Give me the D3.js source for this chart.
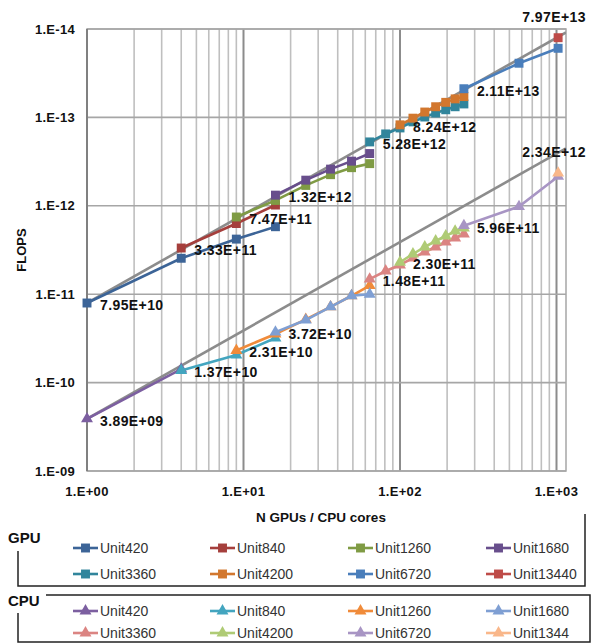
<!DOCTYPE html>
<html>
<head>
<meta charset="utf-8">
<script src="https://cdn.jsdelivr.net/npm/d3@7/dist/d3.min.js"></script>
<style>
  body { margin: 0; background: #fff; }
  svg { display: block; font-family: "Liberation Sans", Arial, sans-serif; }
</style>
</head>
<body>
<svg id="chart" width="593" height="644"></svg>
<script>
// ---- data ----
const gpuNames = ["Unit420", "Unit840", "Unit1260", "Unit1680", "Unit3360", "Unit4200", "Unit6720", "Unit13440"];
const gpuCount = [
  [1, 4, 9, 16],
  [4, 9, 16],
  [9, 16, 25, 36, 49, 64],
  [16, 25, 36, 49, 64],
  [64, 81, 100, 121, 144, 169, 196, 225, 256],
  [100, 121, 144, 169, 196, 225, 256],
  [256, 576, 1024],
  [1024]
];
const gpuFlops = [
  [7.95e10, 2.55e11, 4.2e11, 5.8e11],
  [3.33e11, 6.3e11, 1.02e12],
  [7.47e11, 1.15e12, 1.7e12, 2.25e12, 2.7e12, 3.0e12],
  [1.32e12, 1.95e12, 2.6e12, 3.2e12, 3.9e12],
  [5.28e12, 6.5e12, 7.6e12, 8.9e12, 1.01e13, 1.12e13, 1.22e13, 1.32e13, 1.42e13],
  [8.24e12, 9.8e12, 1.15e13, 1.32e13, 1.48e13, 1.62e13, 1.72e13],
  [2.11e13, 4.1e13, 6.05e13],
  [7.97e13]
];

const cpuNames = ["Unit420", "Unit840", "Unit1260", "Unit1680", "Unit3360", "Unit4200", "Unit6720", "Unit1344"];
const cpuCount = [
  [1, 4],
  [4, 9, 16],
  [9, 16, 25, 36, 49, 64],
  [16, 25, 36, 49, 64],
  [64, 81, 100, 121, 144, 169, 196, 225, 256],
  [100, 121, 144, 169, 196, 225, 256],
  [256, 576, 1024],
  [1024]
];
const cpuFlops = [
  [3.89e9, 1.42e10],
  [1.37e10, 2.05e10, 3.2e10],
  [2.31e10, 3.55e10, 5.2e10, 7.2e10, 9.6e10, 1.25e11],
  [3.72e10, 5.1e10, 7.2e10, 9.6e10, 1.0e11],
  [1.48e11, 1.83e11, 2.14e11, 2.57e11, 3.0e11, 3.42e11, 3.89e11, 4.32e11, 4.8e11],
  [2.30e11, 2.85e11, 3.42e11, 4.0e11, 4.55e11, 5.18e11, 5.6e11],
  [5.96e11, 9.8e11, 2.15e12],
  [2.34e12]
];

// ideal (linear) scaling lines
const idealCount = [1, 1150];
const gpuIdealFlops = [7.95e10, 9.14e13];
const cpuIdealFlops = [3.89e9, 4.47e12];

const xTickValues = [1, 10, 100, 1000];
const xTickLabels = ["1.E+00", "1.E+01", "1.E+02", "1.E+03"];
const yTickValues = [1e9, 1e10, 1e11, 1e12, 1e13, 1e14];
const yTickLabels = ["1.E-09", "1.E-10", "1.E-11", "1.E-12", "1.E-13", "1.E-14"];

// ---- styles ----
const gpuColors = ["#3c6497", "#a53f3c", "#7f9b44", "#684e8c", "#31859c", "#d2772e", "#4a7ebb", "#be4b48"];
const cpuColors = ["#7c5fa0", "#43a5bf", "#f08b3a", "#7f9fd3", "#db8482", "#afcb75", "#a895c4", "#f9b78a"];

const svg = d3.select("#chart");
const pL = 87, pR = 566, pT = 29, pB = 471;

const x = d3.scaleLog().domain([1, 1150]).range([pL, pR]);
const y = d3.scaleLog().domain([1e9, 1e14]).range([pB, pT]);

svg.append("clipPath").attr("id", "plotClip")
  .append("rect").attr("x", pL).attr("y", pT).attr("width", pR - pL).attr("height", pB - pT);

// grid
const grid = svg.append("g");
const minor = x.ticks().filter(d => !xTickValues.includes(d));
grid.selectAll(".vminor").data(minor).join("line")
  .attr("x1", d => x(d)).attr("x2", d => x(d))
  .attr("y1", pT).attr("y2", pB)
  .attr("stroke", "#bfbfbf").attr("stroke-width", 1.6);
grid.selectAll(".vmajor").data(xTickValues).join("line")
  .attr("x1", d => x(d)).attr("x2", d => x(d))
  .attr("y1", pT).attr("y2", pB)
  .attr("stroke", "#8c8c8c").attr("stroke-width", 2);
grid.selectAll(".h").data(yTickValues).join("line")
  .attr("x1", pL).attr("x2", pR)
  .attr("y1", d => y(d)).attr("y2", d => y(d))
  .attr("stroke", "#a6a6a6").attr("stroke-width", 1.6);
svg.append("rect").attr("x", pL).attr("y", pT).attr("width", pR - pL).attr("height", pB - pT)
  .attr("fill", "none").attr("stroke", "#a6a6a6").attr("stroke-width", 1.5);
svg.append("line").attr("x1", pL).attr("x2", pL).attr("y1", pT).attr("y2", pB)
  .attr("stroke", "#808080").attr("stroke-width", 2);

// tick labels
svg.selectAll(".ylab").data(yTickValues).join("text")
  .attr("x", 75).attr("y", d => y(d)).attr("dy", "0.35em")
  .attr("text-anchor", "end").attr("font-size", 13).attr("font-weight", "bold")
  .attr("letter-spacing", 0.3).attr("fill", "#111")
  .text((d, i) => yTickLabels[i]);
svg.selectAll(".xlab").data(xTickValues).join("text")
  .attr("x", d => x(d)).attr("y", 496)
  .attr("text-anchor", "middle").attr("font-size", 13).attr("font-weight", "bold")
  .attr("letter-spacing", 0.3).attr("fill", "#111")
  .text((d, i) => xTickLabels[i]);

svg.append("text").attr("x", 321).attr("y", 522).attr("text-anchor", "middle")
  .attr("font-size", 13.5).attr("font-weight", "bold").attr("fill", "#111")
  .text("N GPUs / CPU cores");
svg.append("text").attr("transform", "translate(26,250) rotate(-90)").attr("text-anchor", "middle")
  .attr("font-size", 13).attr("font-weight", "bold").attr("fill", "#111")
  .text("FLOPS");

// series
const plot = svg.append("g").attr("clip-path", "url(#plotClip)");
const line = d3.line().x(d => x(d[0])).y(d => y(d[1]));

[gpuIdealFlops, cpuIdealFlops].forEach(f => {
  plot.append("path").datum(idealCount.map((c, i) => [c, f[i]]))
    .attr("d", line).attr("fill", "none").attr("stroke", "#8c8c8c").attr("stroke-width", 2.6);
});

const sq = d3.symbol().type(d3.symbolSquare).size(80);
const tri = d3.symbol().type(d3.symbolTriangle).size(62);

function drawSeries(names, counts, flops, colors, sym) {
  names.forEach((n, s) => {
    const pts = counts[s].map((c, i) => [c, flops[s][i]]);
    const g = svg.append("g");
    g.append("path").datum(pts).attr("d", line).attr("fill", "none")
      .attr("stroke", colors[s]).attr("stroke-width", 2.6);
    g.selectAll("path.m").data(pts).join("path").attr("class", "m")
      .attr("d", sym).attr("transform", d => `translate(${x(d[0])},${y(d[1])})`)
      .attr("fill", colors[s]);
  });
}
drawSeries(gpuNames, gpuCount, gpuFlops, gpuColors, sq);
drawSeries(cpuNames, cpuCount, cpuFlops, cpuColors, tri);

// data labels on the first point of each series
function fmt(v) {
  const [m, e] = v.toExponential(2).toUpperCase().split("E");
  return m + "E" + e[0] + e.slice(1).padStart(2, "0");
}
function labels(counts, flops) {
  counts.forEach((c, s) => {
    const px = x(c[0]), py = y(flops[s][0]);
    const last = c.length === 1;
    svg.append("text")
      .attr("x", last ? px - 4 : px + 13).attr("y", last ? py - 21 : py + 2)
      .attr("dy", "0.35em").attr("text-anchor", last ? "middle" : "start")
      .attr("font-size", 14).attr("font-weight", "bold").attr("letter-spacing", 0.4)
      .attr("fill", "#111").text(fmt(flops[s][0]));
  });
}
labels(gpuCount, gpuFlops);
labels(cpuCount, cpuFlops);

// legends
const colX = [73, 210, 348, 486];
function legend(names, colors, sym, rows, title, titleY) {
  svg.append("text").attr("x", 8).attr("y", titleY).attr("font-size", 15).attr("font-weight", "bold")
    .attr("fill", "#111").text(title);
  names.forEach((n, i) => {
    const lx = colX[i % 4], ly = rows[Math.floor(i / 4)];
    const g = svg.append("g").attr("transform", `translate(${lx},${ly})`);
    g.append("line").attr("x1", 0).attr("x2", 25).attr("stroke", colors[i]).attr("stroke-width", 2.6);
    g.append("path").attr("d", sym()).attr("transform", "translate(12.5,0)").attr("fill", colors[i]);
    g.append("text").attr("x", 27).attr("dy", "0.35em").attr("font-size", 14).attr("fill", "#333").text(n);
  });
}
legend(gpuNames, gpuColors, sq, [548, 574], "GPU", 543);
legend(cpuNames, cpuColors, tri, [611, 633], "CPU", 606);

// legend frames
svg.append("path").attr("d", "M18,551V586H585V514").attr("fill", "none").attr("stroke", "#222").attr("stroke-width", 1.5);
svg.append("path").attr("d", "M46,595H590V642H18V613").attr("fill", "none").attr("stroke", "#222").attr("stroke-width", 1.5);
</script>
</body>
</html>
